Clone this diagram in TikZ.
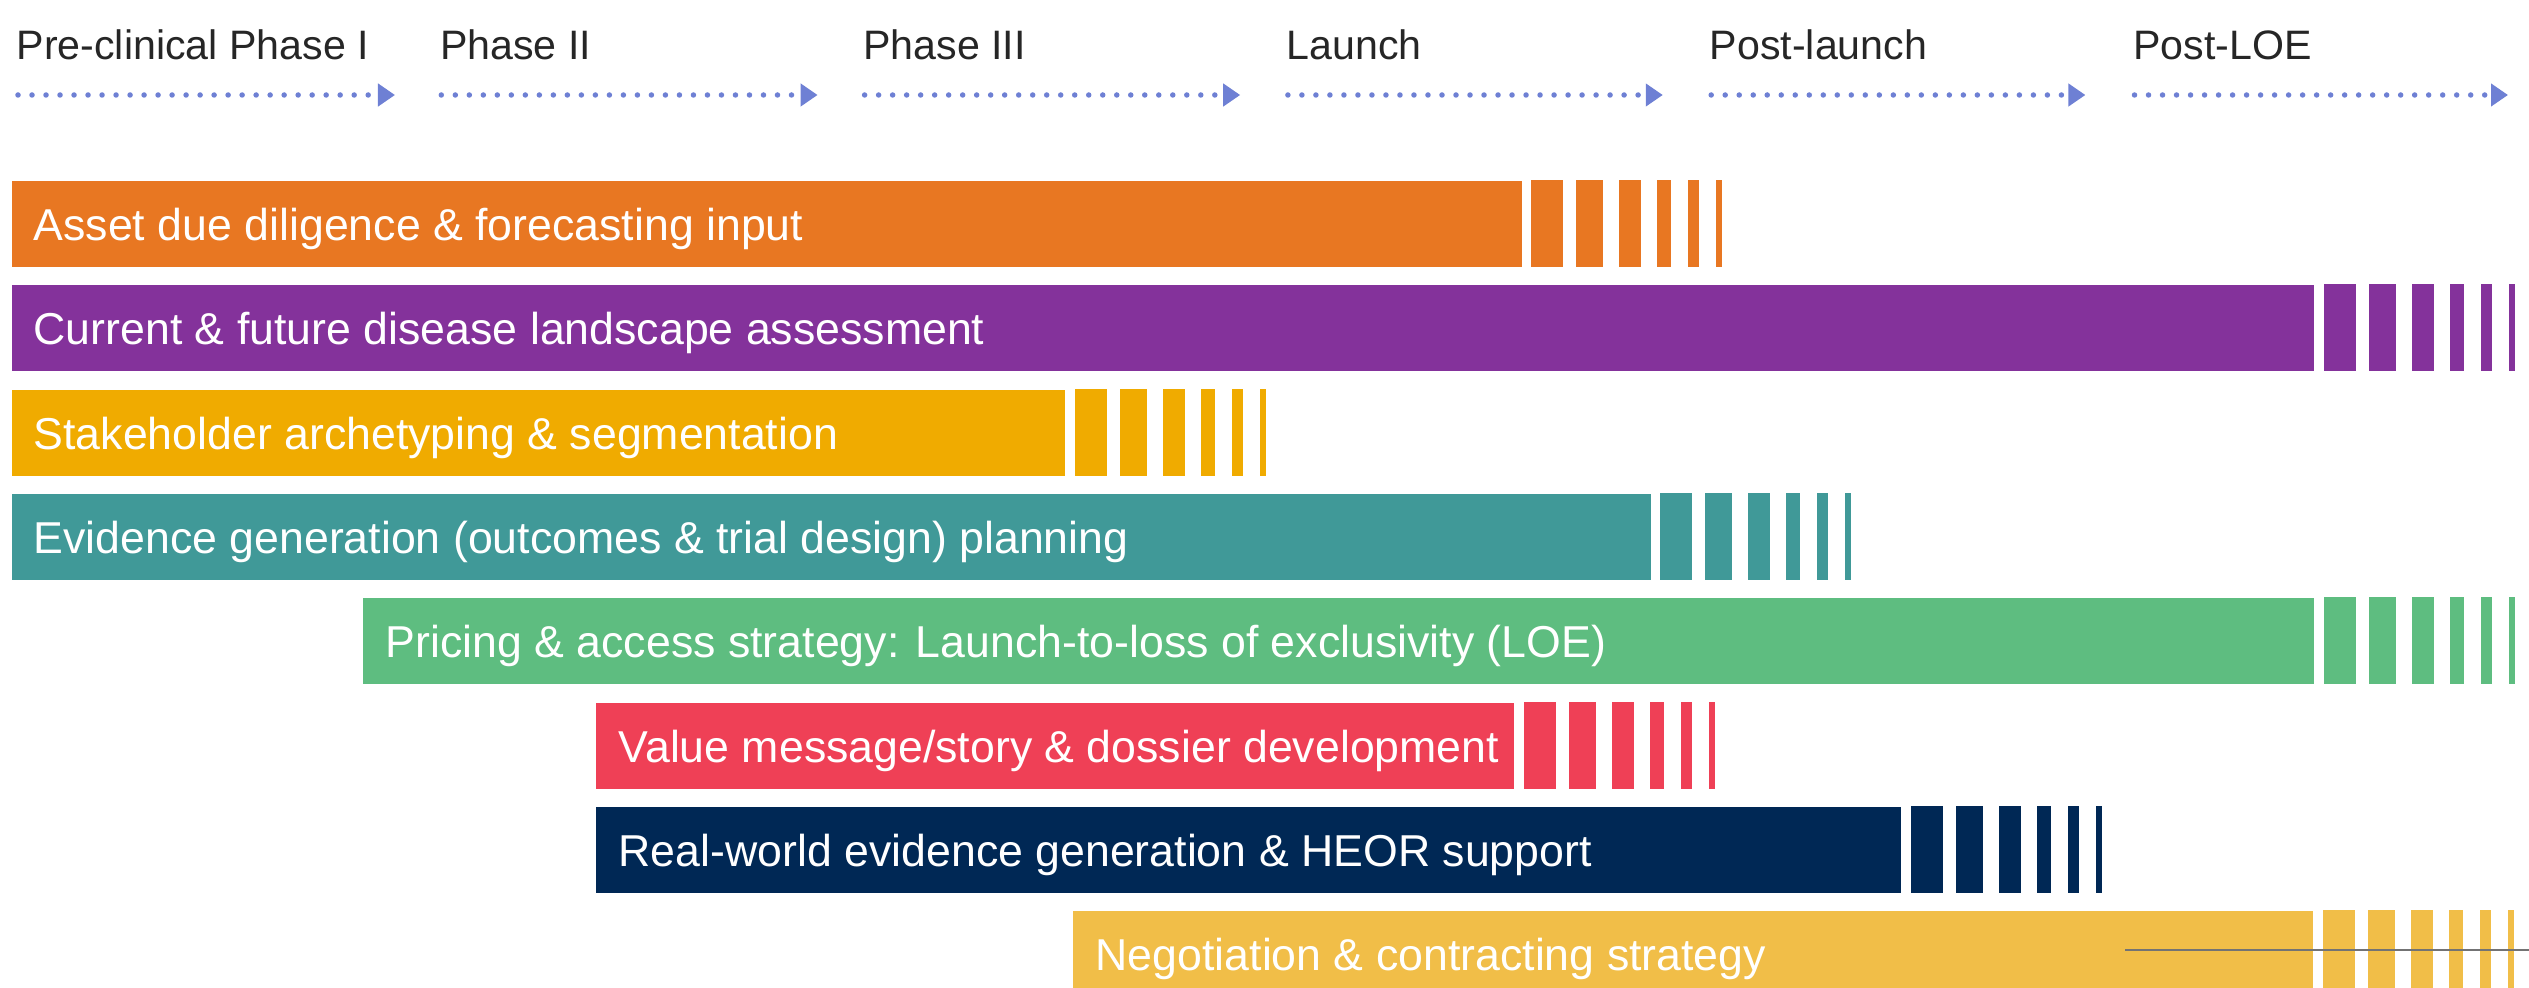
\documentclass[tikz,border=0pt]{standalone}
\usepackage{fontspec}
\setmainfont{Liberation Sans}
\usetikzlibrary{arrows.meta}
\usetikzlibrary{calc}
\tikzset{>=latex}
\definecolor{phaseblue}{RGB}{110,128,212}
\definecolor{assetorange}{RGB}{232,119,34}
\definecolor{landpurple}{RGB}{132,50,155}
\definecolor{stakeamber}{RGB}{240,171,0}
\definecolor{evidteal}{RGB}{64,153,152}
\definecolor{pricegreen}{RGB}{94,189,128}
\definecolor{valuered}{RGB}{239,64,86}
\definecolor{rwenavy}{RGB}{0,40,85}
\definecolor{neggold}{RGB}{241,190,72}
\tikzstyle{phaseline}=[draw=phaseblue,line width=0.055cm,line cap=round,dash pattern=on 0pt off 0.14cm,-{Triangle[length=0.17cm,width=0.22cm]}]
\tikzstyle{phaselabel}=[anchor=base west,inner sep=0,text=black!85,font=\fontsize{11.7}{14}\selectfont]
\tikzstyle{bar}=[anchor=north west,inner sep=0,minimum height=0.86cm]
\tikzstyle{barlabel}=[anchor=base west,inner sep=0,text=white,font=\fontsize{12.7}{15}\selectfont]
% broken end of a bar
\newcommand{\bartail}[2]{%
  \foreach \a/\b in {9/41,54/81,97/119,135/149,166/177,194/200}
    \fill[#2] ($(#1.north east)+(\a,0)$) rectangle ($(#1.south east)+(\b,0)$);
}

\begin{document}
\begin{tikzpicture}[x=0.01cm,y=-0.01cm]
    \useasboundingbox (0,0) rectangle (2529,988);

    % phases
    \foreach \name [count=\i from 0] in {Pre-clinical Phase I,Phase II,Phase III,Launch,Post-launch,Post-LOE}{
      \node[phaselabel] (ph\i) at ({16+423.3*\i},60) {\name};
      \coordinate (ps\i) at ({18+423.3*\i},95);
      \coordinate (pe\i) at ({395+422.6*\i},95);
      \draw[phaseline] (ps\i) -- (pe\i);
    }

    \node[bar,fill=assetorange,minimum width=15.09cm] (asset) at (11,180) {};
    \node[barlabel] (assetlbl) at ($(asset.west)+(22,17)$) {Asset due diligence \& forecasting input};
    \bartail{asset}{assetorange}

    \node[bar,fill=landpurple,minimum width=23.01cm] (land) at (11,284) {};
    \node[barlabel] (landlbl) at ($(land.west)+(22,17)$) {Current \& future disease landscape assessment};
    \bartail{land}{landpurple}

    \node[bar,fill=stakeamber,minimum width=10.53cm] (stake) at (11,389) {};
    \node[barlabel] (stakelbl) at ($(stake.west)+(22,17)$) {Stakeholder archetyping \& segmentation};
    \bartail{stake}{stakeamber}

    \node[bar,fill=evidteal,minimum width=16.38cm] (evid) at (11,493) {};
    \node[barlabel] (evidlbl) at ($(evid.west)+(22,17)$) {Evidence generation (outcomes \& trial design) planning};
    \bartail{evid}{evidteal}

    \node[bar,fill=pricegreen,minimum width=19.50cm] (price) at (362,597) {};
    \node[barlabel] (pricelbl) at ($(price.west)+(23,17)$) {Pricing \& access strategy: Launch-to-loss of exclusivity (LOE)};
    \bartail{price}{pricegreen}

    \node[bar,fill=valuered,minimum width=9.18cm] (value) at (595,702) {};
    \node[barlabel] (valuelbl) at ($(value.west)+(23,17)$) {Value message/story \& dossier development};
    \bartail{value}{valuered}

    \node[bar,fill=rwenavy,minimum width=13.05cm] (rwe) at (595,806) {};
    \node[barlabel] (rwelbl) at ($(rwe.west)+(23,17)$) {Real-world evidence generation \& HEOR support};
    \bartail{rwe}{rwenavy}

    \node[bar,fill=neggold,minimum width=12.40cm] (neg) at (1072,910) {};
    \node[barlabel] (neglbl) at ($(neg.west)+(23,17)$) {Negotiation \& contracting strategy};
    \bartail{neg}{neggold}

    %\draw thin rule across the last bar
    \draw[black!55,line width=0.4pt] (2125,950) -- (2529,950);
\end{tikzpicture}
\end{document}
